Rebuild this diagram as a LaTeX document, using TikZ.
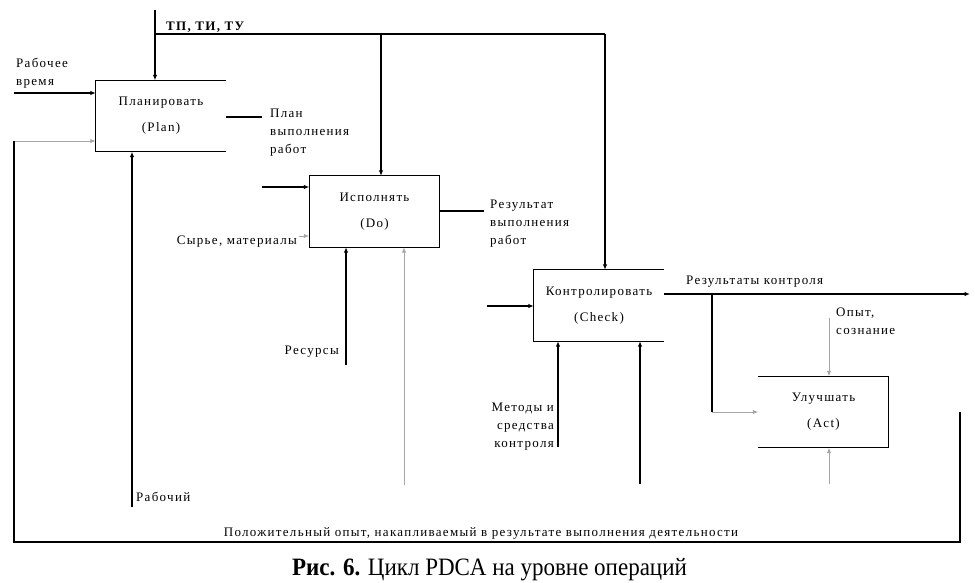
\documentclass[tikz,border=0pt]{standalone}
\usepackage{fontspec}
\setmainfont{Liberation Serif}
\newfontfamily\labfont[LetterSpace=10]{Liberation Serif}
\newfontfamily\capfont{Liberation Serif}
\usetikzlibrary{arrows.meta,calc}
\begin{document}
\begin{tikzpicture}[x=1pt,y=-1pt,
  ln/.style={line width=1.3pt,black},
  gl/.style={line width=1pt,black!35},
  arr/.style={-{Latex[length=5.5pt,width=4.5pt]}},
  box/.style={minimum width=130pt,minimum height=71pt,inner sep=0pt,align=center,font=\labfont\fontsize{13}{26}\selectfont},
  lab/.style={inner sep=0pt,font=\labfont\fontsize{13}{18}\selectfont}]
\useasboundingbox (0,0) rectangle (975,582);
% boxes
\node[box] (plan) at (161,116) {Планировать\\(Plan)};
\node[box] (do) at (374.5,211.5) {Исполнять\\(Do)};
\node[box] (check) at (599,305.5) {Контролировать\\(Check)};
\node[box] (act) at (823.5,412) {Улучшать\\(Act)};
\draw[ln] (plan.north east) -- (plan.north west) -- (plan.south west) -- (plan.south east);
\draw[ln] (do.north east) rectangle (do.south west);
\draw[ln] (check.north east) -- (check.north west) -- (check.south west) -- (check.south east);
\draw[ln] (act.north west) -- (act.north east) -- (act.south east) -- (act.south west);
% top control: ТП, ТИ, ТУ
\coordinate (tp) at (155,10);
\coordinate (tpc) at (155,34);
\coordinate (tpe) at (605,34);
\node[lab,anchor=west,font=\labfont\bfseries\fontsize{13}{18}\selectfont] (tplab) at (166,27) {ТП, ТИ, ТУ};
\draw[ln,arr] (tp) -- (tp |- plan.north);
\draw[ln] (tpc) -- (tpe);
\draw[ln,arr] (tpe) -- (tpe |- check.north);
\draw[ln,arr] (381,34) coordinate (dtop) -- (dtop |- do.north);
% Plan inputs
\node[lab,anchor=west,align=left] (rv) at (16,73) {Рабочее\\время};
\coordinate (rvs) at (14,93);
\draw[ln,arr] (rvs) -- (rvs -| plan.west);
% feedback loop
\coordinate (fbL) at (14,141);
\coordinate (fbBL) at (14,542);
\coordinate (fbBR) at (960,542);
\coordinate (fbR) at (960,412);
\draw[gl,arr] (fbL) -- (fbL -| plan.west);
\draw[ln] (fbL) -- (fbBL) -- (fbBR) -- (fbR);
\node[lab] (pos) at (481,533) {Положительный опыт, накапливаемый в результате выполнения деятельности};
% Plan mechanism
\coordinate (rab) at (132,507);
\draw[ln,arr] (rab) -- (rab |- plan.south);
\node[lab,anchor=west] (rablab) at (136,497) {Рабочий};
% Plan output
\coordinate (po) at (262,117);
\draw[ln] (po -| plan.east) -- (po);
\node[lab,anchor=north west,align=left] (polab) at (270,109) {План\\выполнения\\работ};
% Do inputs
\coordinate (din) at (262,187);
\draw[ln,arr] (din) -- (din -| do.west);
\node[lab,anchor=east] (syr) at (297,242) {Сырье, материалы};
\coordinate (dsyr) at (299,236);
\draw[gl,arr] (dsyr) -- (dsyr -| do.west);
\coordinate (dres) at (346,365);
\draw[ln,arr] (dres) -- (dres |- do.south);
\node[lab,anchor=east] (reslab) at (339,352) {Ресурсы};
\coordinate (dg) at (404,485);
\draw[gl,arr] (dg) -- (dg |- do.south);
% Do output
\coordinate (dout) at (484,211);
\draw[ln] (dout -| do.east) -- (dout);
\node[lab,anchor=north west,align=left] (doutlab) at (490,200) {Результат\\выполнения\\работ};
% Check inputs
\coordinate (cin) at (487,306);
\draw[ln,arr] (cin) -- (cin -| check.west);
\coordinate (cm) at (558,447);
\draw[ln,arr] (cm) -- (cm |- check.south);
\node[lab,anchor=south east,align=right] (cmlab) at (554,450) {Методы и\\средства\\контроля};
\coordinate (cm2) at (640,484);
\draw[ln,arr] (cm2) -- (cm2 |- check.south);
% Check output
\coordinate (cout) at (970,294);
\draw[ln,arr] (cout -| check.east) -- (cout);
\node[lab,anchor=west] (coutlab) at (686,282) {Результаты контроля};
\coordinate (br) at (712,294);
\coordinate (brd) at (712,412);
\draw[ln] (br) -- (brd);
\draw[gl,arr] (brd) -- (brd -| act.west);
% Act inputs
\node[lab,anchor=north west,align=left] (opyt) at (836,308) {Опыт,\\сознание};
\coordinate (ao) at (829,318);
\draw[gl,arr] (ao) -- (ao |- act.north);
\coordinate (ab) at (829,484);
\draw[gl,arr] (ab) -- (ab |- act.south);
% caption
\node[inner sep=0pt] (cap) at (489.5,570) {\scalebox{0.92}[1]{\capfont\fontsize{25}{27}\selectfont\textbf{Рис. 6.} Цикл PDCA на уровне операций}};
\end{tikzpicture}
\end{document}
